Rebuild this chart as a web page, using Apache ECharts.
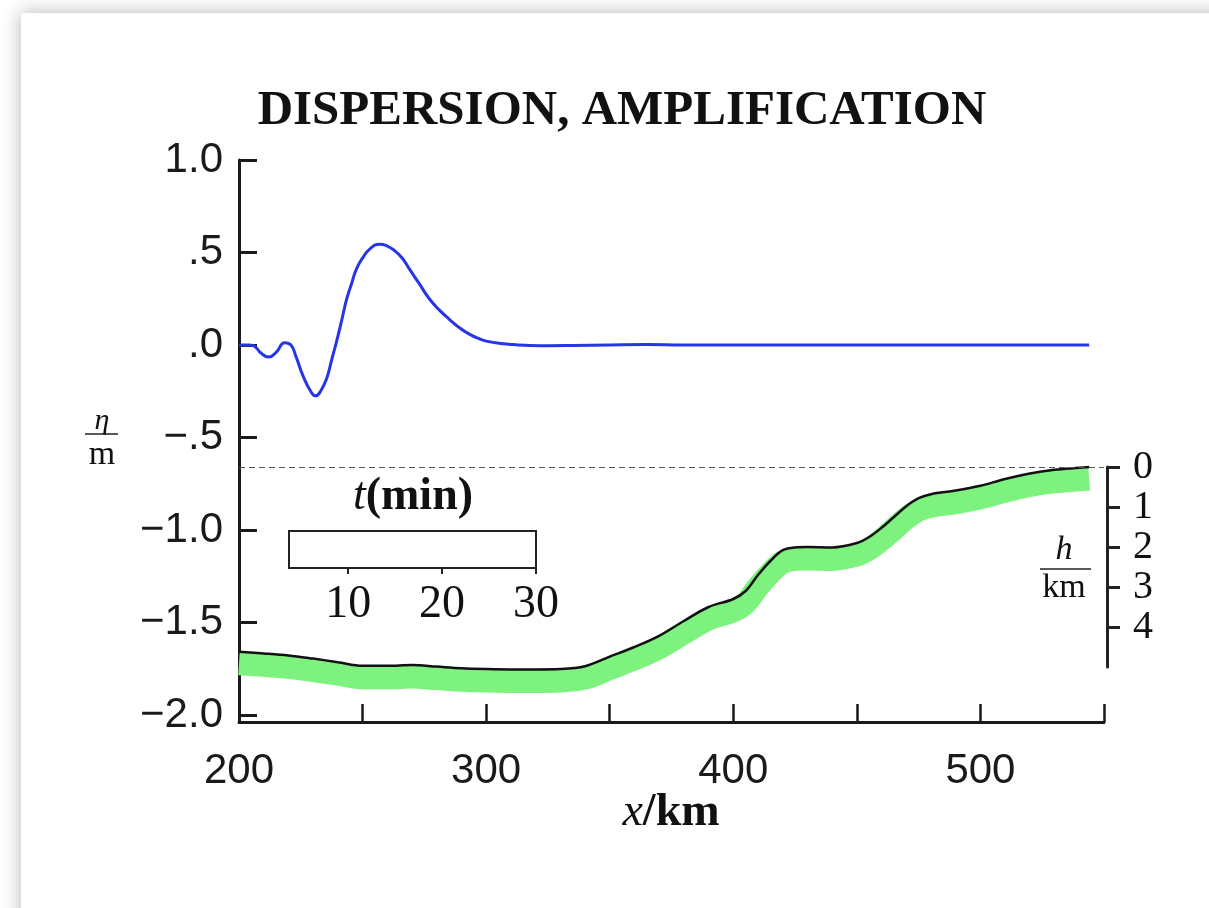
<!DOCTYPE html>
<html>
<head>
<meta charset="utf-8">
<script src="https://cdn.jsdelivr.net/npm/echarts@6/dist/echarts.min.js"></script>
<style>
  html, body { margin: 0; padding: 0; background: #ffffff; overflow: hidden; }
  #card { position: absolute; left: 21px; top: 13px; width: 1300px; height: 1000px; background: #fff;
          box-shadow: 0 0 18px rgba(0,0,0,0.30); }
  #chart { position: absolute; left: 0; top: 0; width: 1209px; height: 908px; }
</style>
</head>
<body>
<div id="card"></div>
<div id="chart"></div>
<script>
// ---- data ----
const titleText = 'DISPERSION, AMPLIFICATION';

// surface elevation eta (m) along x (km)
const etaKm = [200, 204, 206, 209, 212, 215, 218.5, 221, 223, 226, 229, 231, 233, 235.5, 237.5, 239.5,
  241.5, 243.5, 245.5, 247.5, 250, 253, 257, 260, 262.5, 266, 269, 273, 277, 281, 285, 289, 293, 297,
  301, 306, 311, 318, 325, 335, 350, 365, 380, 420, 500, 544];
const etaM = [0, 0, -0.005, -0.045, -0.065, -0.04, 0.012, 0.0, -0.06, -0.17, -0.25, -0.275, -0.25, -0.18,
  -0.08, 0.02, 0.13, 0.245, 0.33, 0.41, 0.47, 0.52, 0.545, 0.535, 0.515, 0.47, 0.41, 0.33, 0.25, 0.19,
  0.14, 0.095, 0.06, 0.035, 0.018, 0.008, 0.002, -0.003, -0.004, -0.003, 0.0, 0.002, 0.0, 0.0, 0.0, 0.0];

// water depth h (km) along x (km)
const depthKm = [200, 210, 220, 230, 240, 250, 260, 270, 280, 290, 300, 310, 320, 330, 340, 350, 360, 370,
  380, 390, 400, 405, 410, 415, 420, 425, 430, 440, 450, 455, 460, 465, 470, 475, 480, 490, 500, 510,
  520, 530, 540, 544];
const depthH = [4.62, 4.66, 4.71, 4.79, 4.88, 4.97, 4.97, 4.95, 4.99, 5.03, 5.05, 5.06, 5.06, 5.05, 4.98,
  4.74, 4.50, 4.22, 3.85, 3.50, 3.30, 3.10, 2.70, 2.35, 2.08, 2.01, 2.00, 2.01, 1.90, 1.75, 1.52, 1.25,
  0.98, 0.78, 0.68, 0.59, 0.47, 0.30, 0.16, 0.07, 0.02, 0.0];
const seaLevelH = 0;

// axes
const xTickValues = [200, 250, 300, 350, 400, 450, 500, 550];
const xLabelValues = [200, 300, 400, 500];
const yTickValues = [-2, -1.5, -1, -0.5, 0, 0.5, 1];
const yTickLabels = ['\u22122.0', '\u22121.5', '\u22121.0', '\u2212.5', '.0', '.5', '1.0'];
const hTickValues = [0, 1, 2, 3, 4];
const tTickValues = [10, 20, 30];

const zip = (a, b) => a.map((v, i) => [v, b[i]]);

const chart = echarts.init(document.getElementById('chart'), null, { renderer: 'canvas' });

const SANS = 'Liberation Sans';
const SERIF = 'Liberation Serif';
const AX = '#1a1a1a';

const option = {
  animation: false,
  backgroundColor: 'transparent',
  grid: [
    { left: 239, right: 105, top: 160, bottom: 908 - 722 },         // main eta panel
    { left: 239, right: 105, top: 467, height: 200 },                // bathymetry (h axis)
    { left: 239, right: 105, top: 479, height: 200 },                // green band (shifted)
    { left: 289, width: 247, top: 531, height: 37, show: true,       // t(min) inset
      borderColor: '#222', borderWidth: 2, backgroundColor: '#fff' }
  ],
  xAxis: [
    { gridIndex: 0, type: 'value', min: 200, max: 550,
      splitLine: { show: false },
      axisLine: { show: true, onZero: false, lineStyle: { color: AX, width: 3 } },
      axisTick: { show: true, inside: true, length: 18, customValues: xTickValues, lineStyle: { color: AX, width: 2.5 } },
      axisLabel: { customValues: xLabelValues, margin: 28, color: '#1a1a1a', fontFamily: SANS, fontSize: 42 } },
    { gridIndex: 1, type: 'value', min: 200, max: 550, show: false },
    { gridIndex: 2, type: 'value', min: 200, max: 550, show: false },
    { gridIndex: 3, type: 'value', min: 3.7, max: 30,
      splitLine: { show: false },
      axisLine: { show: true, onZero: false, lineStyle: { color: '#222', width: 2 } },
      axisTick: { show: true, inside: false, length: 6, customValues: tTickValues, lineStyle: { color: '#222', width: 2 } },
      axisLabel: { customValues: tTickValues, margin: 14, color: '#111', fontFamily: SERIF, fontSize: 46 } }
  ],
  yAxis: [
    { gridIndex: 0, type: 'value', min: -2.038, max: 1.0,
      splitLine: { show: false },
      axisLine: { show: true, onZero: false, lineStyle: { color: AX, width: 3 } },
      axisTick: { show: true, inside: true, length: 18, customValues: yTickValues, lineStyle: { color: AX, width: 3 } },
      axisLabel: { customValues: yTickValues, margin: 16, color: '#1a1a1a', fontFamily: SANS, fontSize: 42,
        formatter: function (v) {
          for (let i = 0; i < yTickValues.length; i++) if (Math.abs(yTickValues[i] - v) < 1e-6) return yTickLabels[i];
          return '';
        } } },
    { gridIndex: 1, type: 'value', min: 0, max: 5, inverse: true, position: 'right', offset: 3,
      splitLine: { show: false },
      axisLine: { show: true, lineStyle: { color: '#222', width: 3 } },
      axisTick: { show: true, inside: false, length: 13, customValues: hTickValues, lineStyle: { color: '#222', width: 3 } },
      axisLabel: { customValues: hTickValues, margin: 26, color: '#111', fontFamily: SERIF, fontSize: 40 } },
    { gridIndex: 2, type: 'value', min: 0, max: 5, inverse: true, show: false },
    { gridIndex: 3, type: 'value', min: 0, max: 1, show: false }
  ],
  series: [
    { name: 'band', type: 'line', xAxisIndex: 2, yAxisIndex: 2, data: zip(depthKm, depthH),
      showSymbol: false, symbol: 'none', smooth: 0.35, clip: false, z: 1,
      lineStyle: { color: '#7ef27e', width: 23, cap: 'butt', join: 'round' } },
    { name: 'depth', type: 'line', xAxisIndex: 1, yAxisIndex: 1, data: zip(depthKm, depthH),
      showSymbol: false, symbol: 'none', smooth: 0.35, clip: false, z: 3,
      lineStyle: { color: '#111', width: 2.5 },
      markLine: { silent: true, symbol: 'none', label: { show: false },
        lineStyle: { color: '#555', width: 1.2, type: [6, 4] },
        data: [{ yAxis: seaLevelH }] } },
    { name: 'eta', type: 'line', xAxisIndex: 0, yAxisIndex: 0, data: zip(etaKm, etaM),
      showSymbol: false, symbol: 'none', smooth: 0.5, z: 4,
      lineStyle: { color: '#2636e4', width: 3 } }
  ],
  graphic: [
    { type: 'text', x: 622, y: 111, style: { text: titleText, fill: '#111',
        font: 'bold 49px "Liberation Serif"', align: 'center', verticalAlign: 'middle' } },
    // eta / m fraction label
    { type: 'text', x: 102, y: 421, style: { text: '\u03b7', fill: '#111',
        font: 'italic 30px "Liberation Serif"', align: 'center', verticalAlign: 'middle' } },
    { type: 'line', shape: { x1: 85, y1: 434, x2: 118, y2: 434 }, style: { stroke: '#222', lineWidth: 1.5 } },
    { type: 'text', x: 102, y: 455, style: { text: 'm', fill: '#111',
        font: '34px "Liberation Serif"', align: 'center', verticalAlign: 'middle' } },
    // h / km fraction label
    { type: 'text', x: 1064, y: 550, style: { text: 'h', fill: '#111',
        font: 'italic 34px "Liberation Serif"', align: 'center', verticalAlign: 'middle' } },
    { type: 'line', shape: { x1: 1040, y1: 569, x2: 1091, y2: 569 }, style: { stroke: '#222', lineWidth: 1.5 } },
    { type: 'text', x: 1064, y: 588, style: { text: 'km', fill: '#111',
        font: '34px "Liberation Serif"', align: 'center', verticalAlign: 'middle' } },
    // inset title t(min)
    { type: 'text', x: 413, y: 497, style: { text: '{i|t}{b|(min)}', align: 'center', verticalAlign: 'middle',
        rich: { i: { fontFamily: SERIF, fontStyle: 'italic', fontSize: 46, fill: '#111', color: '#111' },
                b: { fontFamily: SERIF, fontWeight: 'bold', fontSize: 46, fill: '#111', color: '#111' } } } },
    // x axis name
    { type: 'text', x: 671, y: 813, style: { text: '{i|x}{b|/km}', align: 'center', verticalAlign: 'middle',
        rich: { i: { fontFamily: SERIF, fontStyle: 'italic', fontSize: 46, fill: '#111', color: '#111' },
                b: { fontFamily: SERIF, fontWeight: 'bold', fontSize: 46, fill: '#111', color: '#111' } } } }
  ]
};
chart.setOption(option);
</script>
</body>
</html>
